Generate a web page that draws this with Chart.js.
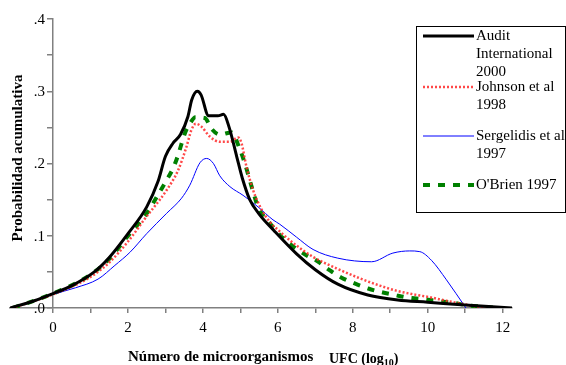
<!DOCTYPE html>
<html>
<head>
<meta charset="utf-8">
<script src="https://cdn.jsdelivr.net/npm/chart.js@4/dist/chart.umd.min.js"></script>
<style>
  html, body { margin: 0; padding: 0; background: #fff; }
  #chart { display: block; }
</style>
</head>
<body>
<canvas id="chart" width="566" height="365"></canvas>
<script>
// Series values (x = log10 UFC, y = probabilidad acumulativa)
const auditX = [-1.15, -0.5, 0, 0.5, 1.1, 1.5, 2, 2.5, 2.8, 3.0, 3.2, 3.4, 3.6, 3.7, 3.85, 3.95, 4.15, 4.4, 4.55, 4.7, 4.9, 5.05, 5.25, 5.5, 5.9, 6.5, 7.0, 7.6, 8.4, 9.2, 10, 11, 12.25];
const auditY = [0, 0.01, 0.02, 0.031, 0.05, 0.07, 0.103, 0.14, 0.175, 0.21, 0.228, 0.24, 0.265, 0.288, 0.3, 0.295, 0.266, 0.266, 0.268, 0.25, 0.21, 0.18, 0.15, 0.13, 0.107, 0.075, 0.053, 0.033, 0.018, 0.011, 0.008, 0.004, 0];

const johnsonX = [-1.1, 0, 1, 1.5, 2, 2.5, 2.67, 3.03, 3.34, 3.56, 3.69, 3.81, 3.96, 4.19, 4.45, 4.72, 4.94, 5.03, 5.16, 5.34, 5.57, 5.74, 6.05, 6.41, 6.93, 7.56, 8.19, 8.72, 9.16, 9.61, 10.05, 10.5, 10.94, 11.56];
const johnsonY = [0, 0.019, 0.043, 0.063, 0.092, 0.127, 0.138, 0.163, 0.191, 0.223, 0.246, 0.255, 0.251, 0.237, 0.23, 0.23, 0.236, 0.228, 0.196, 0.163, 0.136, 0.122, 0.106, 0.09, 0.071, 0.055, 0.041, 0.031, 0.024, 0.019, 0.015, 0.01, 0.0055, 0];

const sergelidisX = [-1.1, 0, 0.6, 1.2, 1.65, 2.05, 2.5, 3.03, 3.43, 3.65, 3.92, 4.1, 4.28, 4.45, 4.72, 5.07, 5.47, 5.87, 6.05, 6.5, 6.94, 7.6, 8.5, 9.07, 9.52, 9.79, 10.1, 10.5, 11.02];
const sergelidisY = [0, 0.019, 0.028, 0.04, 0.059, 0.077, 0.103, 0.131, 0.152, 0.17, 0.201, 0.207, 0.2, 0.183, 0.168, 0.156, 0.14, 0.122, 0.116, 0.098, 0.081, 0.069, 0.064, 0.076, 0.079, 0.078, 0.066, 0.039, 0];

const obrienX = [-1.07, 0, 1, 1.5, 2, 2.5, 2.85, 3.03, 3.2, 3.32, 3.52, 3.65, 3.8, 4.05, 4.23, 4.45, 4.76, 4.99, 5.12, 5.3, 5.47, 5.79, 6.05, 6.41, 6.76, 7.08, 7.39, 7.7, 8.05, 8.41, 8.76, 9.12, 9.52, 9.92, 10.27, 10.67, 11.03, 11.43, 11.87];
const obrienY = [0, 0.02, 0.046, 0.068, 0.1, 0.131, 0.161, 0.177, 0.193, 0.209, 0.242, 0.255, 0.264, 0.263, 0.248, 0.24, 0.243, 0.219, 0.2, 0.168, 0.14, 0.117, 0.101, 0.085, 0.073, 0.064, 0.052, 0.042, 0.034, 0.027, 0.022, 0.018, 0.014, 0.012, 0.0097, 0.0073, 0.004, 0.002, 0];

const seriesNames = [['Audit', 'International', '2000'], ['Johnson et al', '1998'], ['Sergelidis et al', '1997'], ["O'Brien 1997"]];

// Tick positions and labels
const xTickValues = [0, 1, 2, 3, 4, 5, 6, 7, 8, 9, 10, 11, 12];
const yTickValues = [0, 0.05, 0.1, 0.15, 0.2, 0.25, 0.3, 0.35, 0.4];
const yTickLabels = ['.0', '', '.1', '', '.2', '', '.3', '', '.4'];

const yTitle = 'Probabilidad acumulativa';
const xTitle = 'Número de microorganismos';
const xUnit = 'UFC (log';
const xUnitSub = '10';

const SERIF = '"Liberation Serif", "Times New Roman", serif';

const toPoints = (xs, ys) => xs.map((x, i) => ({ x, y: ys[i] }));

// titles, y labels and the boxed legend, drawn by hand to keep the wrapped labels
const decorations = {
  id: 'decorations',
  afterDraw(chart) {
    const ctx = chart.ctx;
    const xScale = chart.scales.x;
    const yScale = chart.scales.y;
    ctx.save();
    ctx.fillStyle = '#000';

    // y tick labels, left of the axis that crosses at x = 0
    const axisX = xScale.getPixelForValue(0);
    ctx.font = '15px ' + SERIF;
    ctx.textAlign = 'right';
    ctx.textBaseline = 'middle';
    yTickValues.forEach((v, i) => {
      if (yTickLabels[i]) ctx.fillText(yTickLabels[i], axisX - 8, yScale.getPixelForValue(v) + 1);
    });

    // y title
    ctx.font = 'bold 15px ' + SERIF;
    ctx.textAlign = 'center';
    ctx.translate(18, 158);
    ctx.rotate(-Math.PI / 2);
    ctx.fillText(yTitle, 0, 0);
    ctx.setTransform(1, 0, 0, 1, 0, 0);

    // x title with subscript
    ctx.font = 'bold 15px ' + SERIF;
    ctx.textAlign = 'left';
    ctx.textBaseline = 'alphabetic';
    ctx.fillText(xTitle, 128, 361);
    ctx.font = 'bold 14px ' + SERIF;
    ctx.fillText(xUnit, 329, 363);
    const w = ctx.measureText(xUnit).width;
    ctx.font = 'bold 10px ' + SERIF;
    ctx.fillText(xUnitSub, 329 + w, 366);
    const w2 = ctx.measureText(xUnitSub).width;
    ctx.font = 'bold 14px ' + SERIF;
    ctx.fillText(')', 329 + w + w2, 363);

    // legend
    ctx.strokeStyle = '#000';
    ctx.lineWidth = 1;
    ctx.strokeRect(416.5, 26.5, 149, 186);
    const rows = [36, 87, 136, 185];
    ctx.font = '15px ' + SERIF;
    ctx.textBaseline = 'middle';
    chart.data.datasets.forEach((ds, i) => {
      ctx.beginPath();
      ctx.strokeStyle = ds.borderColor;
      ctx.lineWidth = ds.borderWidth;
      ctx.setLineDash(ds.borderDash || []);
      ctx.moveTo(423, rows[i]);
      ctx.lineTo(474, rows[i]);
      ctx.stroke();
      ctx.setLineDash([]);
      seriesNames[i].forEach((line, j) => {
        ctx.fillText(line, 476, rows[i] + j * 18);
      });
    });
    ctx.restore();
  }
};

new Chart(document.getElementById('chart'), {
  type: 'line',
  data: {
    datasets: [
      { label: 'Audit International 2000', data: toPoints(auditX, auditY), borderColor: '#000000', borderWidth: 3 },
      { label: 'Johnson et al 1998', data: toPoints(johnsonX, johnsonY), borderColor: 'rgba(255,40,40,0.85)', borderWidth: 2.5, borderDash: [2, 2] },
      { label: 'Sergelidis et al 1997', data: toPoints(sergelidisX, sergelidisY), borderColor: '#0000ff', borderWidth: 1 },
      { label: "O'Brien 1997", data: toPoints(obrienX, obrienY), borderColor: '#008000', borderWidth: 4, borderDash: [7, 8] },
    ]
  },
  options: {
    responsive: false,
    animation: false,
    parsing: false,
    layout: { padding: { left: 10, right: 54, top: 19, bottom: 0 } },
    elements: {
      point: { radius: 0 },
      line: { fill: false, cubicInterpolationMode: 'monotone' }
    },
    plugins: {
      legend: { display: false },
      tooltip: { enabled: false }
    },
    scales: {
      x: {
        type: 'linear',
        min: -1.15,
        max: 12.25,
        afterBuildTicks: (scale) => { scale.ticks = xTickValues.map(value => ({ value })); },
        afterFit: (scale) => { scale.height = 57; },
        border: { color: '#808080', width: 1.5 },
        grid: { display: true, drawOnChartArea: false, tickLength: 5, color: '#808080', lineWidth: 1.5 },
        ticks: {
          autoSkip: false,
          maxRotation: 0,
          padding: 6,
          color: '#000',
          font: { family: SERIF, size: 15 },
          callback: (v) => (v % 2 === 0 ? String(v) : '')
        }
      },
      y: {
        type: 'linear',
        position: { x: 0 },
        min: 0,
        max: 0.4,
        afterBuildTicks: (scale) => { scale.ticks = yTickValues.map(value => ({ value })); },
        border: { color: '#808080', width: 1.5 },
        grid: { display: true, drawOnChartArea: false, tickLength: 5, color: '#808080', lineWidth: 1.5 },
        ticks: {
          autoSkip: false,
          color: '#000',
          font: { family: SERIF, size: 15 },
          callback: () => ''
        }
      }
    }
  },
  plugins: [decorations]
});
</script>
</body>
</html>
